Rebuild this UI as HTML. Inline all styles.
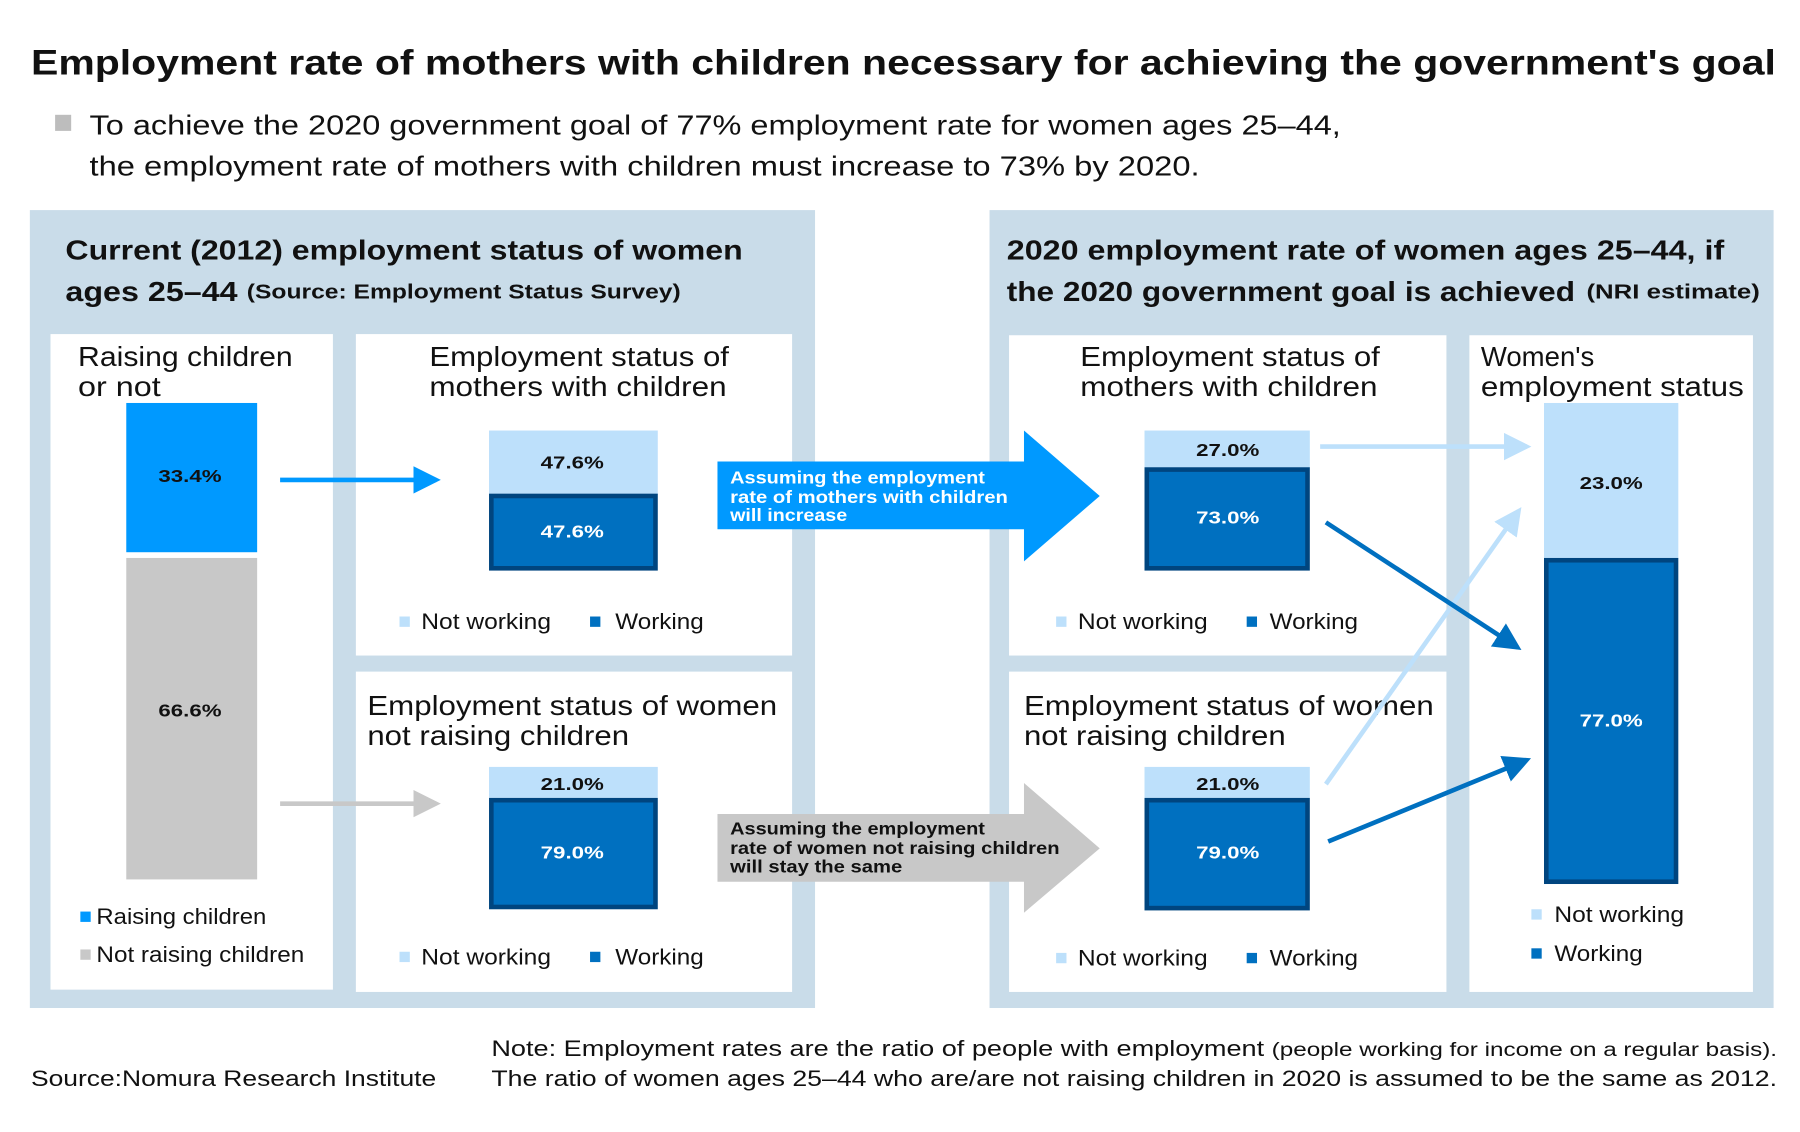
<!DOCTYPE html>
<html><head><meta charset="utf-8"><style>
html,body{margin:0;padding:0;background:#fff;width:1800px;height:1132px;overflow:hidden}
svg{display:block}
text{font-family:"Liberation Sans",sans-serif;fill:#111}
.b{font-weight:bold}
</style></head><body>
<svg width="1800" height="1132" viewBox="0 0 1568 986" preserveAspectRatio="none" xmlns="http://www.w3.org/2000/svg">
<defs>
<marker id="mb" markerWidth="6" markerHeight="6" refX="5" refY="3" orient="auto" markerUnits="strokeWidth"><path d="M0,0 L6,3 L0,6 z" fill="#0099ff"/></marker>
<marker id="mg" markerWidth="6" markerHeight="6" refX="5" refY="3" orient="auto" markerUnits="strokeWidth"><path d="M0,0 L6,3 L0,6 z" fill="#c8c8c8"/></marker>
<marker id="ml" markerWidth="6" markerHeight="6" refX="5" refY="3" orient="auto" markerUnits="strokeWidth"><path d="M0,0 L6,3 L0,6 z" fill="#bde0fb"/></marker>
<marker id="md" markerWidth="6" markerHeight="6" refX="5" refY="3" orient="auto" markerUnits="strokeWidth"><path d="M0,0 L6,3 L0,6 z" fill="#0070c0"/></marker>
</defs>
<text x="27" y="65" class="b" font-size="31" textLength="1520" lengthAdjust="spacingAndGlyphs">Employment rate of mothers with children necessary for achieving the government's goal</text>
<rect x="48" y="100" width="14" height="14" fill="#bdbdbd"/>
<text x="78" y="117" font-size="24" textLength="1090" lengthAdjust="spacingAndGlyphs">To achieve the 2020 government goal of 77% employment rate for women ages 25–44,</text>
<text x="78" y="153" font-size="24" textLength="967" lengthAdjust="spacingAndGlyphs">the employment rate of mothers with children must increase to 73% by 2020.</text>

<rect x="26" y="183" width="684" height="695" fill="#c9dce9"/>
<rect x="862" y="183" width="683" height="695" fill="#c9dce9"/>
<text x="57" y="226" class="b" font-size="24" textLength="590" lengthAdjust="spacingAndGlyphs">Current (2012) employment status of women</text>
<text x="57" y="262" class="b" font-size="24" textLength="150" lengthAdjust="spacingAndGlyphs">ages 25–44</text>
<text x="215" y="260" class="b" font-size="18" textLength="378" lengthAdjust="spacingAndGlyphs">(Source: Employment Status Survey)</text>
<text x="877" y="226" class="b" font-size="24" textLength="625" lengthAdjust="spacingAndGlyphs">2020 employment rate of women ages 25–44, if</text>
<text x="877" y="262" class="b" font-size="24" textLength="495" lengthAdjust="spacingAndGlyphs">the 2020 government goal is achieved</text>
<text x="1382" y="260" class="b" font-size="18" textLength="151" lengthAdjust="spacingAndGlyphs">(NRI estimate)</text>

<rect x="44" y="291" width="246" height="571" fill="#fff"/>
<rect x="310" y="291" width="380" height="280" fill="#fff"/>
<rect x="310" y="585" width="380" height="279" fill="#fff"/>
<rect x="879" y="292" width="381" height="279" fill="#fff"/>
<rect x="879" y="585" width="381" height="279" fill="#fff"/>
<rect x="1280" y="292" width="247" height="572" fill="#fff"/>

<!-- box A -->
<text x="68" y="319" font-size="24" textLength="187" lengthAdjust="spacingAndGlyphs">Raising children</text>
<text x="68" y="345" font-size="24" textLength="72" lengthAdjust="spacingAndGlyphs">or not</text>
<rect x="110" y="351" width="114" height="130" fill="#0099ff"/>
<rect x="110" y="486" width="114" height="280" fill="#c8c8c8"/>
<text x="138" y="420" font-size="15" class="b" textLength="55" lengthAdjust="spacingAndGlyphs">33.4%</text>
<text x="138" y="624" font-size="15" class="b" textLength="55" lengthAdjust="spacingAndGlyphs">66.6%</text>
<rect x="70" y="794" width="9" height="9" fill="#0099ff"/>
<text x="84" y="805" font-size="19" textLength="148" lengthAdjust="spacingAndGlyphs">Raising children</text>
<rect x="70" y="827" width="9" height="9" fill="#c8c8c8"/>
<text x="84" y="838" font-size="19" textLength="181" lengthAdjust="spacingAndGlyphs">Not raising children</text>

<!-- box B -->
<text x="374" y="319" font-size="24" textLength="261" lengthAdjust="spacingAndGlyphs">Employment status of</text>
<text x="374" y="345" font-size="24" textLength="259" lengthAdjust="spacingAndGlyphs">mothers with children</text>
<rect x="426" y="375" width="147" height="56" fill="#bde0fb"/>
<rect x="428" y="432" width="143" height="63" fill="#0070c0" stroke="#00457f" stroke-width="4"/>
<text x="471" y="408" font-size="15" class="b" textLength="55" lengthAdjust="spacingAndGlyphs">47.6%</text>
<text x="471" y="468" font-size="15" class="b" style="fill:#fff" textLength="55" lengthAdjust="spacingAndGlyphs">47.6%</text>
<rect x="348" y="537" width="9" height="9" fill="#bde0fb"/><text x="367" y="548" font-size="19" textLength="113" lengthAdjust="spacingAndGlyphs">Not working</text>
<rect x="514" y="537" width="9" height="9" fill="#0070c0"/><text x="536" y="548" font-size="19" textLength="77" lengthAdjust="spacingAndGlyphs">Working</text>

<!-- box C -->
<text x="320" y="623" font-size="24" textLength="357" lengthAdjust="spacingAndGlyphs">Employment status of women</text>
<text x="320" y="649" font-size="24" textLength="228" lengthAdjust="spacingAndGlyphs">not raising children</text>
<rect x="426" y="668" width="147" height="27" fill="#bde0fb"/>
<rect x="428" y="697" width="143" height="93" fill="#0070c0" stroke="#00457f" stroke-width="4"/>
<text x="471" y="688" font-size="15" class="b" textLength="55" lengthAdjust="spacingAndGlyphs">21.0%</text>
<text x="471" y="748" font-size="15" class="b" style="fill:#fff" textLength="55" lengthAdjust="spacingAndGlyphs">79.0%</text>
<rect x="348" y="829" width="9" height="9" fill="#bde0fb"/><text x="367" y="840" font-size="19" textLength="113" lengthAdjust="spacingAndGlyphs">Not working</text>
<rect x="514" y="829" width="9" height="9" fill="#0070c0"/><text x="536" y="840" font-size="19" textLength="77" lengthAdjust="spacingAndGlyphs">Working</text>

<line x1="244" y1="418" x2="380" y2="418" stroke="#0099ff" stroke-width="4" marker-end="url(#mb)"/>
<line x1="244" y1="700" x2="380" y2="700" stroke="#c8c8c8" stroke-width="4" marker-end="url(#mg)"/>

<!-- big arrows -->
<path d="M625,402 H892 V375 L958,432 L892,489 V461 H625 Z" fill="#0099ff"/>
<text x="636" y="421" font-size="15" class="b" style="fill:#fff" textLength="222" lengthAdjust="spacingAndGlyphs">Assuming the employment</text>
<text x="636" y="438" font-size="15" class="b" style="fill:#fff" textLength="242" lengthAdjust="spacingAndGlyphs">rate of mothers with children</text>
<text x="636" y="454" font-size="15" class="b" style="fill:#fff" textLength="102" lengthAdjust="spacingAndGlyphs">will increase</text>
<path d="M625,709 H892 V682 L958,739 L892,795 V768 H625 Z" fill="#c8c8c8"/>
<text x="636" y="727" font-size="15" class="b" textLength="222" lengthAdjust="spacingAndGlyphs">Assuming the employment</text>
<text x="636" y="744" font-size="15" class="b" textLength="287" lengthAdjust="spacingAndGlyphs">rate of women not raising children</text>
<text x="636" y="760" font-size="15" class="b" textLength="150" lengthAdjust="spacingAndGlyphs">will stay the same</text>

<!-- box D -->
<text x="941" y="319" font-size="24" textLength="261" lengthAdjust="spacingAndGlyphs">Employment status of</text>
<text x="941" y="345" font-size="24" textLength="259" lengthAdjust="spacingAndGlyphs">mothers with children</text>
<rect x="997" y="375" width="144" height="33" fill="#bde0fb"/>
<rect x="999" y="409" width="140" height="86" fill="#0070c0" stroke="#00457f" stroke-width="4"/>
<text x="1042" y="397" font-size="15" class="b" textLength="55" lengthAdjust="spacingAndGlyphs">27.0%</text>
<text x="1042" y="456" font-size="15" class="b" style="fill:#fff" textLength="55" lengthAdjust="spacingAndGlyphs">73.0%</text>
<rect x="920" y="537" width="9" height="9" fill="#bde0fb"/><text x="939" y="548" font-size="19" textLength="113" lengthAdjust="spacingAndGlyphs">Not working</text>
<rect x="1086" y="537" width="9" height="9" fill="#0070c0"/><text x="1106" y="548" font-size="19" textLength="77" lengthAdjust="spacingAndGlyphs">Working</text>

<!-- box E -->
<text x="892" y="623" font-size="24" textLength="357" lengthAdjust="spacingAndGlyphs">Employment status of women</text>
<text x="892" y="649" font-size="24" textLength="228" lengthAdjust="spacingAndGlyphs">not raising children</text>
<rect x="997" y="668" width="144" height="27" fill="#bde0fb"/>
<rect x="999" y="697" width="140" height="94" fill="#0070c0" stroke="#00457f" stroke-width="4"/>
<text x="1042" y="688" font-size="15" class="b" textLength="55" lengthAdjust="spacingAndGlyphs">21.0%</text>
<text x="1042" y="748" font-size="15" class="b" style="fill:#fff" textLength="55" lengthAdjust="spacingAndGlyphs">79.0%</text>
<rect x="920" y="830" width="9" height="9" fill="#bde0fb"/><text x="939" y="841" font-size="19" textLength="113" lengthAdjust="spacingAndGlyphs">Not working</text>
<rect x="1086" y="830" width="9" height="9" fill="#0070c0"/><text x="1106" y="841" font-size="19" textLength="77" lengthAdjust="spacingAndGlyphs">Working</text>

<!-- box F -->
<text x="1290" y="319" font-size="24">Women's</text>
<text x="1290" y="345" font-size="24" textLength="229" lengthAdjust="spacingAndGlyphs">employment status</text>
<rect x="1345" y="351" width="117" height="136" fill="#bde0fb"/>
<rect x="1347" y="488" width="113" height="280" fill="#0070c0" stroke="#00457f" stroke-width="4"/>
<text x="1376" y="426" font-size="15" class="b" textLength="55" lengthAdjust="spacingAndGlyphs">23.0%</text>
<text x="1376" y="633" font-size="15" class="b" style="fill:#fff" textLength="55" lengthAdjust="spacingAndGlyphs">77.0%</text>
<rect x="1334" y="792" width="9" height="9" fill="#bde0fb"/><text x="1354" y="803" font-size="19" textLength="113" lengthAdjust="spacingAndGlyphs">Not working</text>
<rect x="1334" y="826" width="9" height="9" fill="#0070c0"/><text x="1354" y="837" font-size="19" textLength="77" lengthAdjust="spacingAndGlyphs">Working</text>

<!-- flow arrows -->
<line x1="1150" y1="389" x2="1330" y2="389" stroke="#bde0fb" stroke-width="4" marker-end="url(#ml)"/>
<line x1="1155" y1="683" x2="1323" y2="445" stroke="#bde0fb" stroke-width="4" marker-end="url(#ml)"/>
<line x1="1155" y1="455" x2="1322" y2="564" stroke="#0070c0" stroke-width="4" marker-end="url(#md)"/>
<line x1="1157" y1="733" x2="1330" y2="662" stroke="#0070c0" stroke-width="4" marker-end="url(#md)"/>

<!-- footer -->
<text x="27" y="946" font-size="19" textLength="353" lengthAdjust="spacingAndGlyphs">Source:Nomura Research Institute</text>
<text x="428" y="920" font-size="19" textLength="1120" lengthAdjust="spacingAndGlyphs">Note: Employment rates are the ratio of people with employment <tspan font-size="17">(people working for income on a regular basis).</tspan></text>
<text x="428" y="946" font-size="19" textLength="1120" lengthAdjust="spacingAndGlyphs">The ratio of women ages 25–44 who are/are not raising children in 2020 is assumed to be the same as 2012.</text>
</svg>
</body></html>
